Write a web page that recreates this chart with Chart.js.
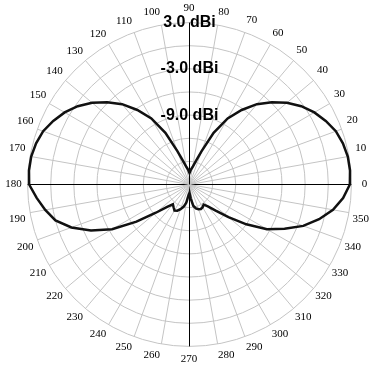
<!DOCTYPE html>
<html>
<head>
<meta charset="utf-8">
<script src="https://cdn.jsdelivr.net/npm/chart.js@4/dist/chart.umd.min.js"></script>
<style>
  html, body { margin: 0; padding: 0; background: #ffffff; }
  #c { display: block; }
</style>
</head>
<body>
<canvas id="c" width="375" height="368"></canvas>
<script>
// Azimuth angles (degrees, counter-clockwise from the right) of the pattern samples
const angleDeg = [
    0,   5,  10,  15,  20,  25,  30,  35,  40,  45,  50,  55,
   60,  65,  70,  75,  80,  85,  90,  95, 100, 105, 110, 115,
  120, 125, 130, 135, 140, 145, 150, 155, 160, 165, 170, 175,
  180, 185, 190, 195, 200, 205, 210, 215, 220, 225, 230, 235,
  240, 245, 250, 255, 260, 265, 270, 275, 280, 285, 290, 295,
  300, 305, 310, 315, 320, 325, 330, 335, 340, 345, 350, 355
];
// Gain at each angle (dBi)
const gainDbi = [
   2.8,   2.9,   2.85,  2.6,   2.2,   1.5,   0.7,  -0.3,  -1.5,  -2.9,  -4.4,  -6.2,
  -8.1, -10.6, -13.4, -14.9, -15.7, -16.1, -16.5, -16.1, -15.7, -14.9, -13.4, -10.6,
  -8.1,  -6.2,  -4.4,  -2.9,  -1.5,  -0.3,   0.7,   1.5,   2.2,   2.6,   2.85,  2.9,
   2.8,   1.9,   1.0,   0.0,  -1.7,  -3.9,  -6.4,  -9.6, -12.3, -13.9, -14.65, -14.4,
 -14.1, -14.25, -14.6, -15.0, -15.6, -16.6, -16.9, -16.2, -15.2, -14.8, -14.6, -14.5,
 -14.6, -14.8, -14.3, -13.2, -11.4,  -9.0,  -6.4,  -4.4,  -2.3,  -0.6,   0.9,   2.0
];
// Ring values that carry a text label
const ringLabelValues = [3.0, -3.0, -9.0];
// Scale range and ring spacing (dBi)
const scaleMin = -18;
const scaleMax = 3;
const ringStep = 3;
// Spoke / label spacing (degrees)
const spokeStep = 10;
const axisAngles = [0, 90, 180, 270];

// Radar draws clockwise from the top, so order the samples as 90, 85, ... going clockwise
const sampleStep = 5;
const nSamples = angleDeg.length;
const chartAngles = [];
for (let i = 0; i < nSamples; i++) chartAngles.push(((90 - i * sampleStep) % 360 + 360) % 360);
const chartData = chartAngles.map(a => gainDbi[angleDeg.indexOf(a)]);

const labelFont = { family: '"Liberation Serif", "Times New Roman", serif', size: 11 };
const tickFontSize = 16;
const tickBackdropPad = 2;
const tickExtra = (tickFontSize + 2 * tickBackdropPad) / 2; // extra offset Chart.js adds to point labels
const measureCtx = document.createElement('canvas').getContext('2d');
measureCtx.font = labelFont.size + 'px ' + labelFont.family;
const labelCenterOffset = 13.5;

const shiftHalfPixel = {
  id: 'shiftHalfPixel',
  afterLayout(chart) {
    const r = chart.scales.r;
    r.xCenter += 0.5;
    r.yCenter += 0.5;
  }
};

new Chart(document.getElementById('c'), {
  type: 'radar',
  data: {
    labels: chartAngles,
    datasets: [{
      data: chartData,
      borderColor: '#111111',
      borderWidth: 2.5,
      fill: false,
      pointRadius: 0,
      pointHoverRadius: 0,
      tension: 0
    }]
  },
  options: {
    responsive: false,
    animation: false,
    devicePixelRatio: 1,
    layout: { padding: { left: 0, right: 0, top: 2, bottom: 2 } },
    plugins: { legend: { display: false }, tooltip: { enabled: false } },
    scales: {
      r: {
        min: scaleMin,
        max: scaleMax,
        startAngle: 0,
        beginAtZero: false,
        grid: { circular: true, color: '#c4c4c4', lineWidth: 1 },
        angleLines: {
          display: true,
          color: (ctx) => {
            const a = chartAngles[ctx.index];
            if (axisAngles.includes(a)) return '#000000';
            return (a % spokeStep === 0) ? '#c4c4c4' : 'rgba(0,0,0,0)';
          },
          lineWidth: (ctx) => (chartAngles[ctx.index] % spokeStep === 0 ? 1 : 0)
        },
        pointLabels: {
          display: true,
          color: '#000000',
          font: labelFont,
          callback: (label) => (label % spokeStep === 0 ? String(label) : ''),
          padding: (ctx) => {
            const text = ctx.label;
            if (!text) return -tickExtra;
            const w = measureCtx.measureText(text).width;
            const h = labelFont.size * 1.2;
            const th = ctx.index * sampleStep * Math.PI / 180;
            return labelCenterOffset - tickExtra - (Math.abs(Math.sin(th)) * w / 2 + Math.abs(Math.cos(th)) * h / 2);
          }
        },
        ticks: {
          stepSize: ringStep,
          showLabelBackdrop: false,
          backdropPadding: tickBackdropPad,
          color: '#000000',
          font: { family: '"Liberation Sans", Arial, sans-serif', size: tickFontSize, weight: 'bold' },
          callback: (v) => (ringLabelValues.includes(v) ? v.toFixed(1) + ' dBi' : '')
        }
      }
    }
  },
  plugins: [shiftHalfPixel]
});
</script>
</body>
</html>
